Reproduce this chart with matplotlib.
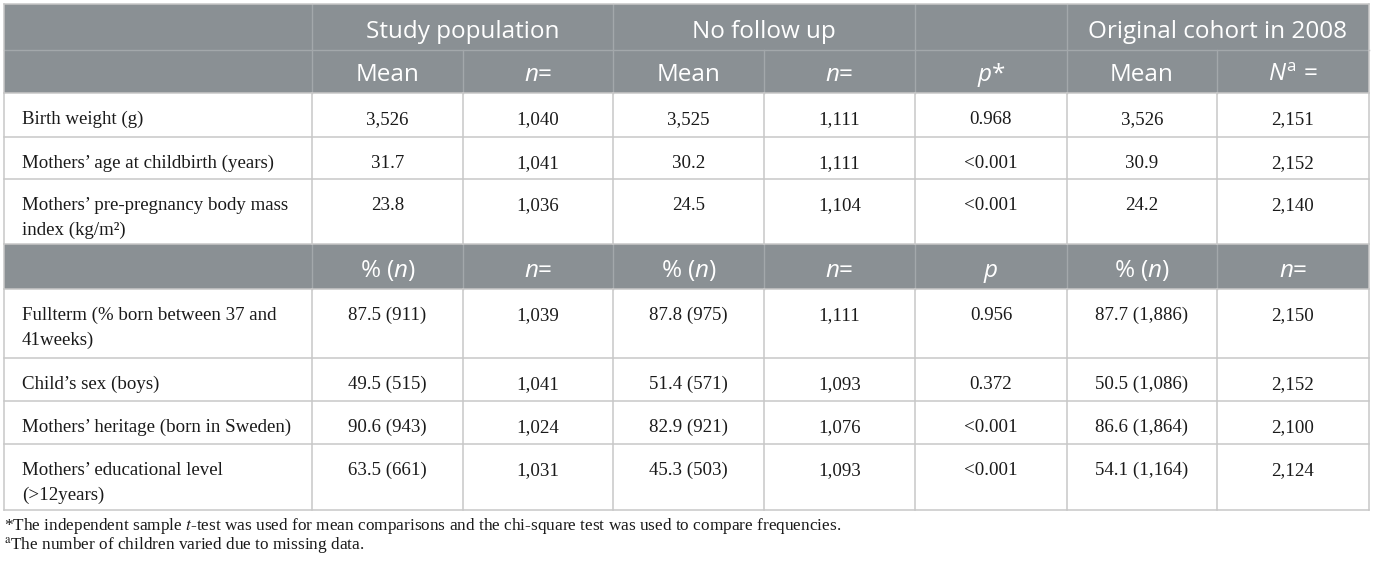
import matplotlib
matplotlib.use('Agg')
import matplotlib.pyplot as plt
from matplotlib.patches import Rectangle

# header font for mathtext (italic n, p, N)
plt.rcParams['mathtext.fontset'] = 'custom'
plt.rcParams['mathtext.rm'] = 'Open Sans'
plt.rcParams['mathtext.it'] = 'Open Sans:italic'
plt.rcParams['mathtext.bf'] = 'Open Sans:bold'

# ---- table content ----
group_titles = ["Study population", "No follow up", "Original cohort in 2008"]
sub_head_mean = ["Mean", "$n$=", "Mean", "$n$=", "$p$*", "Mean", "$N^{\\rm a}$ ="]
sub_head_pct = ["% ($n$)", "$n$=", "% ($n$)", "$n$=", "$p$", "% ($n$)", "$n$="]

labels_mean = ["Birth weight (g)",
               "Mothers\u2019 age at childbirth (years)",
               "Mothers\u2019 pre-pregnancy body mass\nindex (kg/m\u00b2)"]
study_mean = ["3,526", "31.7", "23.8"]
study_n = ["1,040", "1,041", "1,036"]
nofu_mean = ["3,525", "30.2", "24.5"]
nofu_n = ["1,111", "1,111", "1,104"]
p_mean = ["0.968", "<0.001", "<0.001"]
orig_mean = ["3,526", "30.9", "24.2"]
orig_n = ["2,151", "2,152", "2,140"]

labels_pct = ["Fullterm (% born between 37 and\n41weeks)",
              "Child\u2019s sex (boys)",
              "Mothers\u2019 heritage (born in Sweden)",
              "Mothers\u2019 educational level\n(>12years)"]
study_pct = ["87.5 (911)", "49.5 (515)", "90.6 (943)", "63.5 (661)"]
study_n2 = ["1,039", "1,041", "1,024", "1,031"]
nofu_pct = ["87.8 (975)", "51.4 (571)", "82.9 (921)", "45.3 (503)"]
nofu_n2 = ["1,111", "1,093", "1,076", "1,093"]
p_pct = ["0.956", "0.372", "<0.001", "<0.001"]
orig_pct = ["87.7 (1,886)", "50.5 (1,086)", "86.6 (1,864)", "54.1 (1,164)"]
orig_n2 = ["2,150", "2,152", "2,100", "2,124"]

footnotes = ["*The independent sample $t$-test was used for mean comparisons and the chi-square test was used to compare frequencies.",
             "$^{\\rm a}$The number of children varied due to missing data."]

# ---- layout (pixels) ----
col_x = [4, 312, 463, 613, 764, 915, 1067, 1217, 1369]
head_top, head_mid, head_bot = 4, 50, 93
rows1 = [93, 137, 179, 244]
sub_top, sub_bot = 244, 289
rows2 = [289, 358, 401, 444, 510]

HEAD = '#8a9094'
HLINE = '#a3a8ab'
LINE = '#c8c8c8'
SANS = 'Open Sans'
SERIF = ['Liberation Serif', 'DejaVu Serif']
hs = 17.5   # header font size
bs = 13.6   # body font size

fig = plt.figure(figsize=(13.75, 5.68), dpi=100)
ax = fig.add_axes([0, 0, 1, 1])
ax.set_xlim(0, 1375)
ax.set_ylim(568, 0)
ax.axis('off')

L, R = col_x[0], col_x[-1]
ax.add_patch(Rectangle((L, head_top), R - L, head_bot - head_top, color=HEAD, lw=0))
ax.add_patch(Rectangle((L, sub_top), R - L, sub_bot - sub_top, color=HEAD, lw=0))

# header lines
ax.plot([L, R], [head_mid, head_mid], color=HLINE, lw=1)
for x in [col_x[1], col_x[3], col_x[5], col_x[6]]:
    ax.plot([x, x], [head_top, head_mid], color=HLINE, lw=1)
for x in col_x[1:-1]:
    ax.plot([x, x], [head_mid, head_bot], color=HLINE, lw=1)
    ax.plot([x, x], [sub_top, sub_bot], color=HLINE, lw=1)

# body lines
for y in rows1 + rows2 + [head_top]:
    ax.plot([L, R], [y, y], color=LINE, lw=1.1)
for x in col_x:
    ax.plot([x, x], [rows1[0], rows1[-1]], color=LINE, lw=1.1)
    ax.plot([x, x], [rows2[0], rows2[-1]], color=LINE, lw=1.1)
for x in [L, R]:
    ax.plot([x, x], [head_top, head_bot], color=LINE, lw=1.1)
    ax.plot([x, x], [sub_top, sub_bot], color=LINE, lw=1.1)

# header text
spans = [(col_x[1], col_x[3]), (col_x[3], col_x[5]), (col_x[6], col_x[8])]
for t, (a, b) in zip(group_titles, spans):
    ax.text((a + b) / 2, 38, t, ha='center', va='baseline', color='white',
            fontsize=hs, family=SANS, math_fontfamily='custom')
centers = [(col_x[i] + col_x[i + 1]) / 2 for i in range(1, 8)]
for cx, t in zip(centers, sub_head_mean):
    ax.text(cx, 81, t, ha='center', va='baseline', color='white',
            fontsize=hs, family=SANS, math_fontfamily='custom')
for cx, t in zip(centers, sub_head_pct):
    ax.text(cx, 277, t, ha='center', va='baseline', color='white',
            fontsize=hs, family=SANS, math_fontfamily='custom')


def fill_rows(tops, labels, cols):
    for i, top in enumerate(tops):
        for j, line in enumerate(labels[i].split('\n')):
            ax.text(22, top + 31 + 25 * j, line, ha='left', va='baseline',
                    fontsize=bs, family=SERIF, color='#1a1a1a')
        for cx, col in zip(centers, cols):
            ax.text(cx, top + 31, col[i], ha='center', va='baseline',
                    fontsize=bs, family=SERIF, color='#1a1a1a')


fill_rows(rows1[:-1], labels_mean,
          [study_mean, study_n, nofu_mean, nofu_n, p_mean, orig_mean, orig_n])
fill_rows(rows2[:-1], labels_pct,
          [study_pct, study_n2, nofu_pct, nofu_n2, p_pct, orig_pct, orig_n2])

for k, note in enumerate(footnotes):
    ax.text(4, 530 + 20 * k, note, ha='left', va='baseline', fontsize=12.4,
            family=SERIF, math_fontfamily='stix', color='#1a1a1a')

fig.savefig('out.png', dpi=100)
